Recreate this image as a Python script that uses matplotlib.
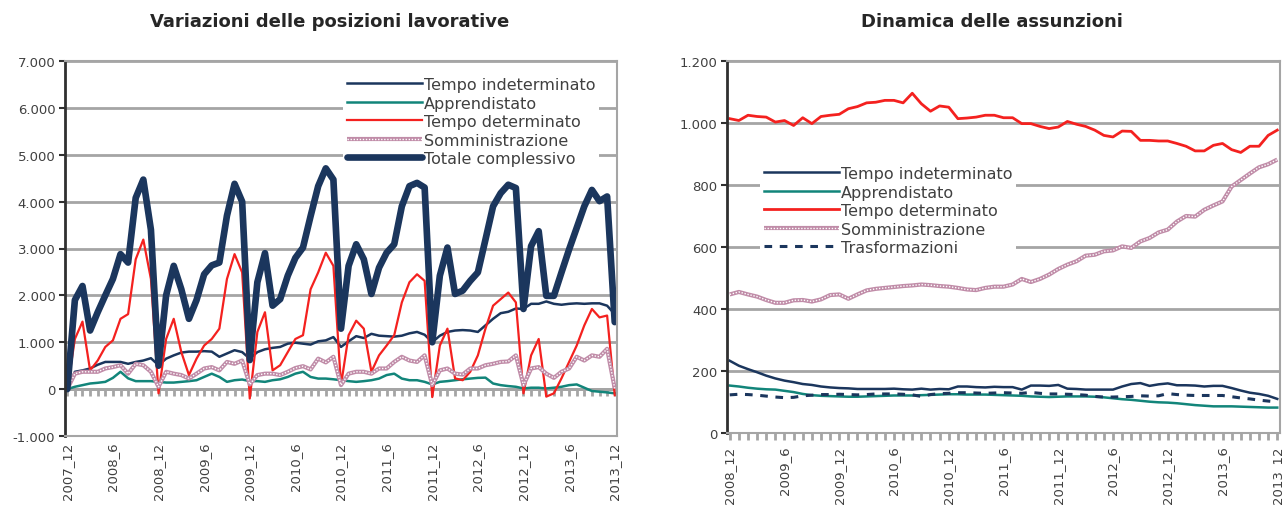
import numpy as np
import matplotlib
matplotlib.use('Agg')
import matplotlib.pyplot as plt
from matplotlib.legend_handler import HandlerTuple
from matplotlib.ticker import FuncFormatter

# ---- data: left chart, monthly 2007_12 .. 2013_12 ----
left_months = [f'{y}_{m}' for y, m in [(2007, 12)] + [(y, m) for y in range(2008, 2014) for m in range(1, 13)]]

left_indet = [0, 370, 400, 440, 520, 580, 580, 580, 540, 580, 610, 660, 510, 650, 720, 780, 800, 800, 810,
              800, 690, 760, 830, 790, 650, 790, 850, 880, 900, 970, 990, 970, 950, 1020, 1040, 1110, 900,
              1020, 1130, 1090, 1180, 1140, 1130, 1120, 1140, 1190, 1220, 1160, 1000, 1140, 1220, 1250, 1260,
              1250, 1220, 1360, 1500, 1620, 1650, 1720, 1710, 1820, 1820, 1870, 1820, 1800, 1820, 1830, 1820,
              1830, 1830, 1780, 1600]
left_appr = [0, 50, 85, 120, 135, 155, 240, 370, 230, 170, 170, 170, 155, 140, 140, 155, 170, 190, 260,
             330, 260, 155, 190, 205, 170, 170, 155, 190, 210, 260, 330, 370, 260, 225, 225, 210, 190,
             170, 155, 170, 190, 225, 300, 330, 225, 190, 190, 155, 100, 155, 170, 190, 210, 225, 240,
             245, 120, 85, 65, 50, 15, 30, 30, 15, 30, 50, 85, 100, 30, -40, -55, -70, -90]
left_det = [0, 1070, 1440, 400, 610, 900, 1040, 1500, 1600, 2770, 3190, 2350, -90, 1070, 1500, 790, 300,
            650, 930, 1070, 1290, 2350, 2880, 2490, -200, 1220, 1640, 400, 510, 790, 1070, 1150, 2130,
            2490, 2910, 2630, 85, 1150, 1460, 1290, 370, 720, 930, 1150, 1850, 2280, 2450, 2310, -170,
            930, 1290, 230, 190, 370, 720, 1290, 1780, 1920, 2060, 1850, -90, 720, 1070, -160, -90, 230,
            580, 930, 1360, 1710, 1530, 1570, -130]
left_somm = [0, 330, 370, 370, 370, 440, 470, 510, 330, 540, 510, 370, 50, 370, 330, 300, 225, 330, 440,
             470, 400, 580, 540, 610, 100, 300, 330, 330, 300, 370, 450, 490, 420, 650, 570, 690, 85,
             330, 370, 370, 330, 440, 440, 580, 690, 610, 580, 720, 85, 400, 440, 330, 310, 440, 440,
             510, 540, 580, 590, 720, 85, 440, 470, 330, 240, 370, 440, 690, 610, 720, 690, 860, 15]
left_tot = [0, 1900, 2200, 1250, 1640, 2000, 2350, 2880, 2700, 4080, 4470, 3400, 500, 2000, 2630, 2130,
            1500, 1900, 2450, 2640, 2700, 3700, 4380, 4000, 620, 2280, 2900, 1780, 1920, 2420, 2800, 3020,
            3690, 4330, 4710, 4470, 1290, 2630, 3090, 2770, 2030, 2590, 2910, 3090, 3900, 4330, 4400,
            4300, 1000, 2420, 3020, 2030, 2100, 2310, 2490, 3190, 3900, 4180, 4360, 4290, 1710, 3050,
            3370, 1990, 1990, 2490, 2980, 3440, 3900, 4250, 4010, 4110, 1430]

# ---- data: right chart, monthly 2008_12 .. 2013_12 ----
right_months = left_months[12:]

right_indet = [233, 217, 206, 196, 185, 176, 169, 164, 158, 155, 150, 147, 145, 144, 142, 142, 142, 142,
               143, 141, 140, 143, 140, 142, 141, 150, 150, 148, 147, 149, 148, 148, 140, 153, 153, 152,
               155, 143, 142, 140, 140, 140, 140, 150, 158, 161, 152, 157, 160, 154, 154, 153, 150, 152,
               152, 145, 137, 130, 126, 120, 110]
right_appr = [153, 150, 146, 143, 141, 140, 136, 132, 126, 122, 120, 119, 118, 117, 117, 118, 119, 120,
              121, 121, 121, 122, 123, 124, 125, 125, 124, 124, 124, 123, 122, 121, 120, 118, 117, 116,
              117, 118, 118, 118, 117, 115, 112, 109, 107, 104, 101, 99, 98, 96, 93, 90, 88, 86, 86, 86,
              85, 84, 83, 82, 82]
right_det = [1014, 1008, 1025, 1021, 1019, 1003, 1008, 992, 1017, 998, 1021, 1025, 1028, 1046, 1053, 1065,
             1067, 1073, 1073, 1065, 1096, 1062, 1038, 1055, 1051, 1014, 1016, 1019, 1025, 1025, 1017,
             1017, 998, 998, 989, 982, 987, 1005, 996, 989, 977, 960, 955, 974, 973, 944, 944, 942, 942,
             934, 925, 910, 910, 928, 934, 914, 905, 925, 925, 960, 977]
right_somm = [447, 455, 447, 440, 429, 420, 420, 428, 429, 424, 431, 445, 447, 433, 447, 460, 465, 468,
              471, 474, 476, 479, 477, 474, 472, 468, 463, 461, 468, 472, 472, 479, 497, 487, 497, 511,
              529, 543, 554, 572, 575, 586, 589, 602, 597, 618, 629, 647, 656, 682, 700, 698, 720, 734,
              747, 795, 816, 837, 857, 867, 882]
right_trasf = [123, 125, 124, 122, 119, 116, 114, 115, 120, 122, 124, 124, 125, 124, 123, 124, 126, 126,
               126, 125, 123, 118, 124, 127, 128, 130, 130, 129, 128, 129, 130, 129, 128, 131, 128, 126,
               126, 125, 124, 122, 118, 116, 116, 117, 118, 120, 119, 120, 127, 124, 122, 121, 121, 121,
               121, 117, 113, 110, 106, 103, 100]

NAVY = '#1b365d'
TEAL = '#12857a'
RED = '#f4211f'
PINK = '#c08ca8'
GRID = '#a5a5a5'
TXT = '#404040'

plt.rcParams['font.family'] = 'DejaVu Sans'


def thousands(v, pos):
    return f'{v:,.0f}'.replace(',', '.')


def somm_line(ax, x, y):
    a, = ax.plot(x, y, color=PINK, lw=3.0, solid_capstyle='butt')
    b, = ax.plot(x, y, color='white', lw=1.0, ls=(0, (1, 1.2)))
    return (a, b)


def style_axes(ax, n, ylim, ystep):
    ax.set_xlim(-0.3, n - 1 + 0.3)
    ax.set_ylim(*ylim)
    ax.set_yticks(np.arange(ylim[0], ylim[1] + 1, ystep))
    ax.yaxis.set_major_formatter(FuncFormatter(thousands))
    ax.grid(axis='y', color=GRID, lw=2)
    ax.set_axisbelow(True)
    for s in ['top', 'right', 'bottom']:
        ax.spines[s].set_color(GRID)
        ax.spines[s].set_linewidth(1.5)
    ax.spines['left'].set_color('#303030')
    ax.spines['left'].set_linewidth(2)
    ax.tick_params(axis='y', labelsize=9.5, labelcolor=TXT, length=4, width=1.5, color='#303030', pad=3)
    ax.tick_params(axis='x', labelsize=9.5, labelcolor=TXT, labelrotation=90, pad=4)


def add_legend(ax, handles, labels, x, y):
    leg = ax.legend(handles, labels,
                    handler_map={tuple: HandlerTuple(ndivide=1, pad=0)},
                    loc='upper left', bbox_to_anchor=(x / 1283, 1 - y / 510),
                    bbox_transform=fig.transFigure, fontsize=11.5, frameon=True, fancybox=False,
                    handlelength=4.7, handletextpad=0.12, labelspacing=0.22, borderpad=0.25,
                    borderaxespad=0)
    leg.get_frame().set_edgecolor('none')
    leg.get_frame().set_facecolor('white')
    leg.get_frame().set_alpha(1)
    for t in leg.get_texts():
        t.set_color(TXT)
    return leg


fig = plt.figure(figsize=(12.83, 5.10), dpi=100)

# ---------------- left chart ----------------
ax1 = fig.add_axes([65 / 1283, 1 - 437 / 510, (617 - 65) / 1283, (437 - 62) / 510])
x1 = np.arange(len(left_months))
style_axes(ax1, len(left_months), (-1000, 7000), 1000)
ax1.set_xticks(x1[::6])
ax1.set_xticklabels(left_months[::6])
ax1.tick_params(axis='x', length=0)

ax1.axhline(0, color=GRID, lw=2, zorder=1)
sec = ax1.secondary_xaxis(1000 / 8000)
sec.set_xticks(x1)
sec.set_xticklabels([])
sec.tick_params(axis='x', direction='out', length=5, width=2, color=GRID)
sec.spines['bottom'].set_visible(False)

h1, = ax1.plot(x1, left_indet, color=NAVY, lw=1.8)
h2, = ax1.plot(x1, left_appr, color=TEAL, lw=1.8)
h3, = ax1.plot(x1, left_det, color=RED, lw=1.6)
h4 = somm_line(ax1, x1, left_somm)
h5, = ax1.plot(x1, left_tot, color=NAVY, lw=4.8, solid_capstyle='round')

add_legend(ax1, [h1, h2, h3, h4, h5],
           ['Tempo indeterminato', 'Apprendistato', 'Tempo determinato', 'Somministrazione',
            'Totale complessivo'], 343, 74)

# ---------------- right chart ----------------
ax2 = fig.add_axes([727 / 1283, 1 - 434 / 510, (1280 - 727) / 1283, (434 - 62) / 510])
x2 = np.arange(len(right_months))
style_axes(ax2, len(right_months), (0, 1200), 200)
ax2.set_xticks(x2[::6])
ax2.set_xticklabels(right_months[::6])
ax2.set_xticks(x2, minor=True)
ax2.tick_params(axis='x', which='both', direction='out', length=5, width=2, color=GRID)

g1, = ax2.plot(x2, right_indet, color=NAVY, lw=1.8)
g2, = ax2.plot(x2, right_appr, color=TEAL, lw=1.8)
g3, = ax2.plot(x2, right_det, color=RED, lw=2.0)
g4 = somm_line(ax2, x2, right_somm)
g5, = ax2.plot(x2, right_trasf, color=NAVY, lw=2.2, ls=(0, (2.5, 2.5)))

add_legend(ax2, [g1, g2, g3, g4, g5],
           ['Tempo indeterminato', 'Apprendistato', 'Tempo determinato', 'Somministrazione',
            'Trasformazioni'], 760, 163)

# ---------------- titles ----------------
fig.text(330 / 1283, 1 - 22 / 510, 'Variazioni delle posizioni lavorative', ha='center', va='center',
         fontsize=13, fontweight='bold', color='#262626')
fig.text(992 / 1283, 1 - 22 / 510, 'Dinamica delle assunzioni', ha='center', va='center',
         fontsize=13, fontweight='bold', color='#262626')

fig.savefig('out.png', dpi=100, facecolor='w')
plt.close('all')
